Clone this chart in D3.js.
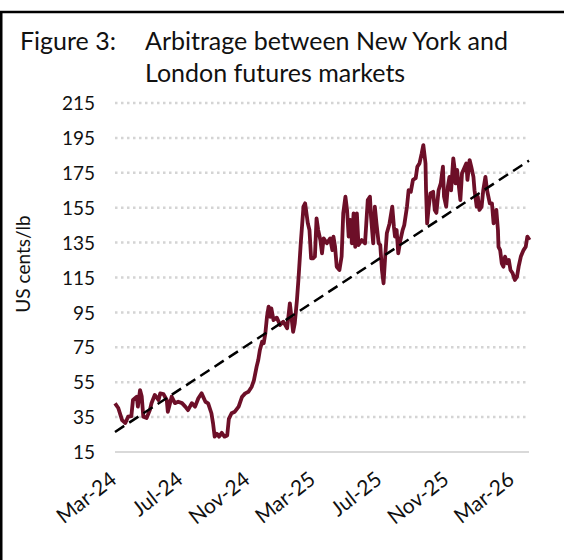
<!DOCTYPE html>
<html><head><meta charset="utf-8">
<script src="https://cdn.jsdelivr.net/npm/d3@7"></script>
<style>html,body{margin:0;padding:0;background:#fff;} svg{display:block;}</style>
</head><body>
<svg id="chart" width="564" height="560"></svg>
<script>
// ---- data ----
const startDate = "2024-03-01";
const endDate = "2026-03-31";
// day offsets from start date for each observation
const dayOffsets = [0,6,13,19,24,30,33,40,42,46,49,52,58,64,67,73,80,83,89,95,97,101,104,110,116,123,129,134,141,147,153,159,166,171,177,180,183,187,191,196,201,206,209,214,220,227,233,239,245,251,255,260,263,266,270,273,276,279,282,285,287,291,297,303,309,316,321,324,327,330,334,337,341,346,349,354,357,360,364,367,370,373,377,380,383,389,395,399,401,404,407,412,416,419,423,426,429,432,435,438,441,444,447,453,459,464,468,470,474,477,480,484,487,490,493,496,499,504,509,512,514,517,520,524,528,531,536,539,543,547,552,555,559,563,566,570,571,573,576,579,584,587,590,594,598,602,604,608,611,614,617,621,623,625,628,630,634,637,641,645,647,651,654,658,660,664,666,669,673,676,680,683,688,692,695,700,703,704,707,710,713,716,720,723,726,730,734,738,741,745,750,754,757,761];
// arbitrage, US cents/lb
const arbValues = [42.9,40.2,33.3,31.6,35.2,35.5,44.8,46.7,41,50.5,47,35.2,34.5,39,42.9,47.7,44.8,48.6,48.2,44.8,38,42.9,46.7,43,43.8,43,41,39,43,41,45.8,48.6,43.8,42.9,37.2,31.4,23.8,25.5,23.8,26,23.8,24.5,34,37.2,38.1,41,46.5,48.6,49.5,52.4,56,63.9,67.7,73.5,78.2,77.3,83,92.5,98.3,92.5,97.3,90.6,92,87.8,89.7,85.9,100.2,92,83.9,88.7,102,115,134.6,155.6,157.5,146,142.2,126,126,127,148.9,142.2,136.5,128.9,137.4,134.6,137.4,130.7,138.4,132.6,121.2,119.3,127,151.8,161.3,153.7,138.4,148,134.6,151.8,132.6,151.8,133.6,136.5,134.6,159.4,161.3,149.8,134.6,155.6,146,134.6,133.6,119.3,111.7,127,140.3,146,155.6,144.1,138.4,142.2,128.9,136.5,142.2,145,155.6,165,164.1,170.9,171.9,178.5,180.4,186.1,190.9,180.4,165,146,155.6,163.2,164.1,153.7,152,165,168.9,178.5,161.3,155.6,167,172.7,165,183.3,178.5,168.9,176.6,170.9,159.4,174.7,177.6,180.4,170.9,182.3,178.5,172.7,165,155.6,161.3,153.7,155.6,165,172.7,165,157.5,157.5,146,153.7,142.2,132.6,130.7,123.1,121.2,127,123.1,125,119.3,117.4,113.6,115.5,121.2,127,130.7,132.6,138.4,136.5];
// linear trend endpoints (start, end)
const trendValues = [26.5, 182];
const yTicks = [15,35,55,75,95,115,135,155,175,195,215];
const xTickLabels = ["Mar-24","Jul-24","Nov-24","Mar-25","Jul-25","Nov-25","Mar-26"];
const xTickDates = ["2024-03-01","2024-07-01","2024-11-01","2025-03-01","2025-07-01","2025-11-01","2026-03-01"];
const titleLabel = "Figure 3:";
const titleLines = ["Arbitrage between New York and","London futures markets"];
const yAxisTitle = "US cents/lb";

// ---- drawing ----
const FONT = "Lato, 'Open Sans', sans-serif";
const svg = d3.select("#chart");
const parse = d3.utcParse("%Y-%m-%d");
const d0 = parse(startDate);
const d1 = parse(endDate);
const x = d3.scaleUtc().domain([d0, d1]).range([115, 529]);
const y = d3.scaleLinear().domain([15, 215]).range([452, 103]);

svg.append("rect").attr("width",564).attr("height",560).attr("fill","#fff");
// frame
svg.append("line").attr("x1",0).attr("x2",564).attr("y1",12).attr("y2",12).attr("stroke","#000").attr("stroke-width",2.5);
svg.append("line").attr("x1",1.25).attr("x2",1.25).attr("y1",12).attr("y2",560).attr("stroke","#000").attr("stroke-width",2.5);

// title
const t = svg.append("g").attr("font-family",FONT).attr("font-size",25).attr("fill","#111");
t.append("text").attr("x",20).attr("y",50).text(titleLabel);
titleLines.forEach((s,i)=> t.append("text").attr("x",145).attr("y",50+32*i).text(s));

// gridlines
const grid = svg.append("g");
yTicks.slice(1).forEach(v=>{
  grid.append("line").attr("x1",115).attr("x2",529).attr("y1",y(v)).attr("y2",y(v))
    .attr("stroke","#d4d4d4").attr("stroke-width",2.5).attr("stroke-dasharray","2.5,3.5");
});
grid.append("line").attr("x1",115).attr("x2",529).attr("y1",y(15)).attr("y2",y(15))
  .attr("stroke","#d9d9d9").attr("stroke-width",2);

// y axis labels
const yAxis = d3.axisLeft(y).tickValues(yTicks).tickSize(0).tickPadding(0);
const ya = svg.append("g").attr("transform","translate(95,0)").call(yAxis);
ya.select(".domain").remove();
ya.selectAll("text").attr("font-family",FONT).attr("font-size",19).attr("fill","#111").attr("dy","0.35em");

// y title
svg.append("text").attr("transform","translate(30,264) rotate(-90)").attr("text-anchor","middle")
  .attr("font-family",FONT).attr("font-size",19).attr("fill","#111").text(yAxisTitle);

// x axis labels
const xAxis = d3.axisBottom(x).tickValues(xTickDates.map(parse)).tickSize(0).tickPadding(0)
  .tickFormat((d,i)=>xTickLabels[i]);
const xa = svg.append("g").attr("transform","translate(3,0)").call(xAxis);
xa.select(".domain").remove();
xa.selectAll(".tick").attr("transform", d=>`translate(${x(d)},482)`);
xa.selectAll("text").attr("font-family",FONT).attr("font-size",21).attr("fill","#111")
  .attr("text-anchor","end").attr("y",0).attr("dy",0).attr("transform","rotate(-38)");

// series
const pts = dayOffsets.map((o,i)=>({d:d3.utcDay.offset(d0,o), v:arbValues[i]}));
svg.append("path").datum(pts)
  .attr("d", d3.line().x(p=>x(p.d)).y(p=>y(p.v)))
  .attr("fill","none").attr("stroke","#6d0f28").attr("stroke-width",3.8).attr("stroke-linejoin","round");

// trend
svg.append("path").datum([{d:d0,v:trendValues[0]},{d:d1,v:trendValues[1]}])
  .attr("d", d3.line().x(p=>x(p.d)).y(p=>y(p.v)))
  .attr("fill","none").attr("stroke","#000").attr("stroke-width",2.5).attr("stroke-dasharray","11,6");
</script>
</body></html>
